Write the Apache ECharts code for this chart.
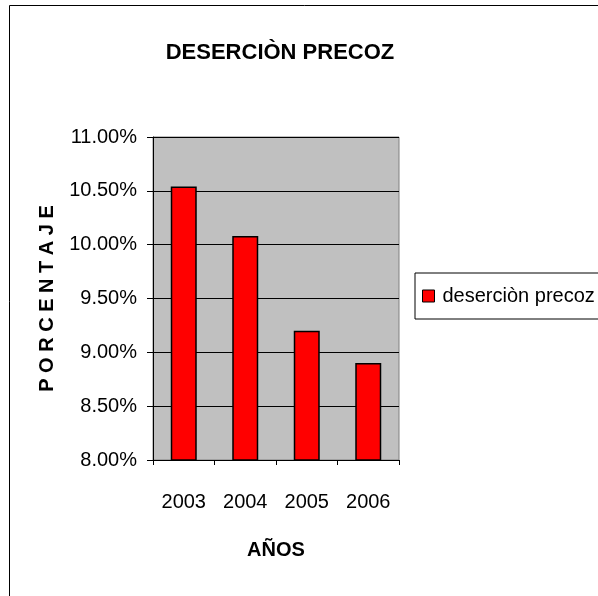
<!DOCTYPE html>
<html>
<head>
<meta charset="utf-8">
<script src="https://cdn.jsdelivr.net/npm/echarts@6/dist/echarts.min.js"></script>
<style>html,body{margin:0;padding:0;background:#fff}#c{width:598px;height:596px}</style>
</head>
<body>
<div id="c"></div>
<script>
const categories = ['2003', '2004', '2005', '2006'];
const seriesName = 'deserciòn precoz';
const values = [10.54, 10.08, 9.20, 8.90];
const yMin = 8, yMax = 11, yInterval = 0.5;
const titleText = 'DESERCIÒN PRECOZ';
const xName = 'AÑOS';
const yName = 'P O R C E N T A J E';

const FN = "'Liberation Sans', Arial, sans-serif";
const chart = echarts.init(document.getElementById('c'), null, {renderer: 'canvas'});
chart.setOption({
  animation: false,
  backgroundColor: '#fff',
  title: {
    text: titleText, left: 275, top: 37, textAlign: 'center',
    textStyle: {fontFamily: FN, fontSize: 22, fontWeight: 'bold', color: '#000'}
  },
  graphic: [{
    type: 'rect', shape: {x: 9.5, y: 5.5, width: 800, height: 800},
    style: {fill: 'none', stroke: '#000', lineWidth: 1}, silent: true
  }],
  legend: {
    data: [seriesName], left: 415, top: 273, orient: 'vertical',
    padding: [13, 30, 13, 7], borderColor: '#000', borderWidth: 1,
    itemWidth: 12, itemHeight: 12, itemGap: 0, icon: 'rect',
    textStyle: {fontFamily: FN, fontSize: 20, lineHeight: 20, color: '#000', padding: [0, 0, 0, 3]},
    itemStyle: {borderColor: '#000', borderWidth: 1}
  },
  grid: {
    left: 153, right: 199, top: 137, bottom: 136, show: true,
    backgroundColor: '#C0C0C0', borderColor: '#808080', borderWidth: 1
  },
  xAxis: {
    type: 'category', data: categories,
    name: xName, nameLocation: 'middle', nameGap: 80,
    nameTextStyle: {fontFamily: FN, fontSize: 20, fontWeight: 'bold', color: '#000'},
    axisLine: {show: true, lineStyle: {color: '#000', width: 1}},
    axisTick: {show: true, length: 5, lineStyle: {color: '#000'}},
    axisLabel: {fontFamily: FN, fontSize: 20, color: '#000', margin: 32, interval: 0}
  },
  yAxis: {
    type: 'value', min: yMin, max: yMax, interval: yInterval,
    name: yName, nameLocation: 'middle', nameGap: 96, nameRotate: 90,
    nameTextStyle: {fontFamily: FN, fontSize: 20, fontWeight: 'bold', color: '#000'},
    axisLine: {show: true, lineStyle: {color: '#000', width: 1}},
    axisTick: {show: true, length: 6, inside: false, lineStyle: {color: '#000'}},
    splitLine: {show: true, lineStyle: {color: '#000', width: 1}},
    axisLabel: {fontFamily: FN, fontSize: 20, color: '#000', margin: 16,
      formatter: v => v.toFixed(2) + '%'}
  },
  series: [{
    name: seriesName, type: 'bar', data: values, barWidth: 26,
    itemStyle: {color: '#FF0000', borderColor: '#000', borderWidth: 1.5}
  }]
});
</script>
</body>
</html>
